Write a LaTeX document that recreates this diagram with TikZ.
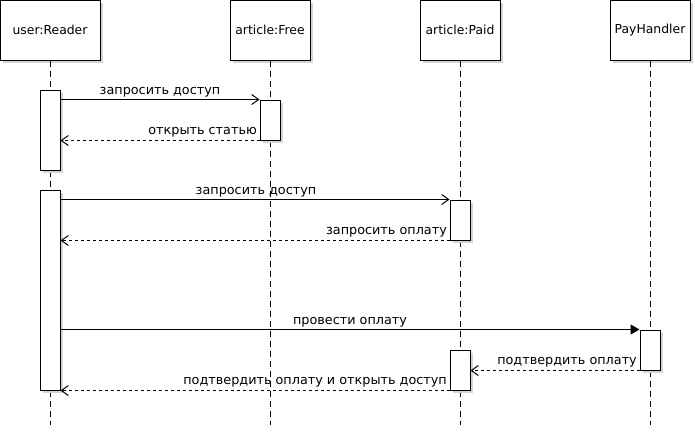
\documentclass[tikz,border=0pt]{standalone}
\usepackage{fontspec}
\setmainfont{DejaVu Sans}
\usetikzlibrary{arrows.meta,shadows}
\begin{document}
\begin{tikzpicture}[x=1pt,y=-1pt,
 shad/.style={drop shadow={shadow xshift=3pt, shadow yshift=-3pt, fill=black!17, opacity=1}},
 head/.style={draw, fill=white, line width=1pt, minimum width=80pt, minimum height=60pt, inner sep=0pt, font=\fontsize{12.4}{14}\selectfont, shad},
 act/.style={draw, fill=white, line width=1pt, minimum width=20pt, inner sep=0pt, shad},
 life/.style={dash pattern=on 6pt off 4pt, line width=1pt},
 msg/.style={line width=1pt, -{Straight Barb[length=7pt,width=10pt,line width=1pt]}},
 ret/.style={msg, dash pattern=on 3pt off 3pt},
 sync/.style={line width=1pt, -{Triangle[length=9pt,width=10pt]}},
 lbl/.style={font=\fontsize{12.8}{14}\selectfont, inner sep=0pt}
]
\useasboundingbox (0,0) rectangle (695,445);
% heads
\node[head, minimum width=100pt] (r) at (50,30) {user:Reader};
\node[head] (f) at (270,30) {article:Free};
\node[head] (p) at (460,30) {article:Paid};
\node[head] (h) at (650,30) {PayHandler};
% lifelines
\coordinate (rE) at (50,425);
\coordinate (fE) at (270,425);
\coordinate (pE) at (460,425);
\coordinate (hE) at (650,425);
\draw[life] (r.south) -- (rE);
\draw[life] (f.south) -- (fE);
\draw[life] (p.south) -- (pE);
\draw[life] (h.south) -- (hE);
% activations
\node[act, minimum height=80pt] (ra1) at (50,130) {};
\node[act, minimum height=40pt] (fa) at (270,120) {};
\node[act, minimum height=200pt] (ra2) at (50,290) {};
\node[act, minimum height=40pt] (pa1) at (460,220) {};
\node[act, minimum height=40pt] (ha) at (650,350) {};
\node[act, minimum height=40pt] (pa2) at (460,370) {};
% messages
\draw[msg] (ra1.east |- fa.north) -- (fa.north west);
\draw[ret] (fa.south west) -- (ra1.east |- fa.south);
\draw[msg] (ra2.east |- pa1.north) -- (pa1.north west);
\draw[ret] (pa1.south west) -- (ra2.east |- pa1.south);
\draw[sync] (ra2.east |- ha.north) -- (ha.north west);
\draw[ret] (ha.south west) -- (pa2.east |- ha.south);
\draw[ret] (pa2.south west) -- (ra2.south east);
% labels
\node[lbl, anchor=base] (l1) at (160,94) {запросить доступ};
\node[lbl, anchor=base east] (l2) at (257,134) {открыть статью};
\node[lbl, anchor=base] (l3) at (256,194) {запросить доступ};
\node[lbl, anchor=base east] (l4) at (447,234) {запросить оплату};
\node[lbl, anchor=base] (l5) at (350,324) {провести оплату};
\node[lbl, anchor=base east] (l6) at (637,364) {подтвердить оплату};
\node[lbl, anchor=base east] (l7) at (447,384) {подтвердить оплату и открыть доступ};
\end{tikzpicture}
\end{document}
